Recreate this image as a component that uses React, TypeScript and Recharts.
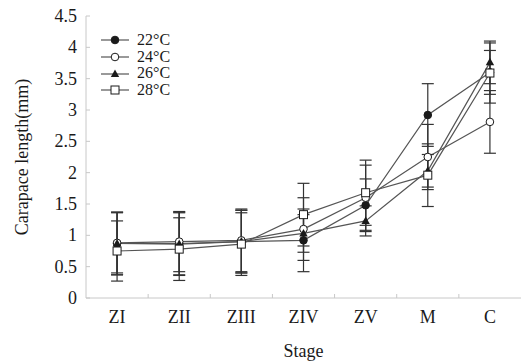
import { ErrorBar, Label, Line, LineChart, XAxis, YAxis } from 'recharts';

const stages = ['ZI', 'ZII', 'ZIII', 'ZIV', 'ZV', 'M', 'C'];
const yTicks = [0, 0.5, 1, 1.5, 2, 2.5, 3, 3.5, 4, 4.5];
const xTicks = [0, 0.5, 1, 1.5, 2, 2.5, 3, 3.5, 4, 4.5, 5, 5.5, 6];

const t22 = [0.87, 0.87, 0.9, 0.92, 1.48, 2.92, 3.6];
const t24 = [0.88, 0.9, 0.92, 1.1, 1.6, 2.25, 2.81];
const t26 = [0.87, 0.86, 0.9, 1.03, 1.23, 2.03, 3.76];
const t28 = [0.75, 0.78, 0.86, 1.33, 1.68, 1.96, 3.59];

const e22 = [0.5, 0.5, 0.5, 0.5, 0.42, 0.5, 0.35];
const e24 = [0.48, 0.48, 0.5, 0.5, 0.52, 0.52, 0.5];
const e26 = [0.5, 0.5, 0.5, 0.3, 0.24, 0.26, 0.34];
const e28 = [0.48, 0.5, 0.5, 0.5, 0.52, 0.5, 0.48];

const data = stages.map((stage, i) => ({
  x: i,
  stage,
  t22: t22[i],
  t24: t24[i],
  t26: t26[i],
  t28: t28[i],
  e22: e22[i],
  e24: e24[i],
  e26: e26[i],
  e28: e28[i],
}));

const FONT = '"Liberation Serif", "Times New Roman", serif';
const INK = '#1a1a1a';
const LINE = '#555';
const AXIS = '#c8c8c8';
const FS = 18;

type Shape = 'disc' | 'circle' | 'triangle' | 'square';

function Marker({ cx, cy, shape }: { cx: number; cy: number; shape: Shape }) {
  if (cx == null || cy == null) return null;
  if (shape === 'disc') return <circle cx={cx} cy={cy} r={3.8} fill={INK} stroke={INK} />;
  if (shape === 'circle')
    return <circle cx={cx} cy={cy} r={3.8} fill="#fff" stroke={INK} strokeWidth={1} />;
  if (shape === 'triangle')
    return <path d={`M${cx},${cy - 4.5}L${cx + 4.2},${cy + 3}L${cx - 4.2},${cy + 3}Z`} fill={INK} />;
  return <rect x={cx - 4} y={cy - 4} width={8} height={8} fill="#fff" stroke={INK} strokeWidth={1} />;
}

const series: { key: string; err: string; name: string; shape: Shape }[] = [
  { key: 't22', err: 'e22', name: '22°C', shape: 'disc' },
  { key: 't24', err: 'e24', name: '24°C', shape: 'circle' },
  { key: 't26', err: 'e26', name: '26°C', shape: 'triangle' },
  { key: 't28', err: 'e28', name: '28°C', shape: 'square' },
];

// legend drawn over the plot, top-left, like the original figure
function LegendBox() {
  return (
    <div
      style={{
        position: 'absolute',
        left: 100,
        top: 32,
        fontFamily: FONT,
        fontSize: 16,
        color: INK,
        lineHeight: '16.5px',
      }}
    >
      {series.map((s) => (
        <div key={s.key} style={{ display: 'flex', alignItems: 'center', height: 16.7 }}>
          <svg width={30} height={14} style={{ overflow: 'visible' }}>
            <line x1={1} y1={7} x2={29} y2={7} stroke={LINE} strokeWidth={1.2} />
            <Marker cx={15} cy={7} shape={s.shape} />
          </svg>
          <span style={{ marginLeft: 7, display: 'inline-block', height: 16.5, overflow: 'visible' }}>
            {s.name}
          </span>
        </div>
      ))}
    </div>
  );
}

function XTick({ x, y, payload }: any) {
  const v = payload.value as number;
  if (!Number.isInteger(v)) {
    return <line x1={x} y1={y} x2={x} y2={y - 4} stroke={AXIS} />;
  }
  return (
    <text x={x} y={y + 25} textAnchor="middle" fontFamily={FONT} fontSize={FS} fill={INK}>
      {stages[v]}
    </text>
  );
}

function YTick({ x, y, payload }: any) {
  return (
    <g>
      <line x1={x} y1={y} x2={x + 4} y2={y} stroke={AXIS} />
      <text x={x - 9} y={y + 6} textAnchor="end" fontFamily={FONT} fontSize={FS} fill={INK}>
        {payload.value}
      </text>
    </g>
  );
}

export default function App() {
  return (
    <div style={{ position: 'absolute', left: 0, top: 0, width: 521, height: 363, background: '#fff' }}>
      <LineChart width={521} height={363} data={data} margin={{ top: 16, right: 0, bottom: 0, left: 0 }}>
        <XAxis
          dataKey="x"
          type="number"
          domain={[-0.5, 6.5]}
          ticks={xTicks}
          interval={0}
          height={65}
          stroke={AXIS}
          tickLine={false}
          tickSize={0}
          tickMargin={0}
          tick={<XTick />}
        >
          <Label
            value="Stage"
            position="insideBottom"
            offset={6}
            style={{ fontFamily: FONT, fontSize: FS, fill: INK }}
          />
        </XAxis>
        <YAxis
          type="number"
          domain={[0, 4.5]}
          ticks={yTicks}
          interval={0}
          width={86}
          stroke={AXIS}
          tickLine={false}
          tickSize={0}
          tickMargin={0}
          tick={<YTick />}
        >
          <Label
            content={({ viewBox }: any) => {
              const cy = viewBox.y + viewBox.height / 2;
              return (
                <text
                  x={22}
                  y={cy}
                  transform={`rotate(-90 22 ${cy})`}
                  textAnchor="middle"
                  dominantBaseline="central"
                  fontFamily={FONT}
                  fontSize={FS}
                  fill={INK}
                >
                  Carapace length(mm)
                </text>
              );
            }}
          />
        </YAxis>
        {series.map((s) => (
          <Line
            key={s.key}
            dataKey={s.key}
            name={s.name}
            stroke={LINE}
            strokeWidth={1.2}
            isAnimationActive={false}
            dot={(p: any) => <Marker key={`${s.key}-${p.index}`} cx={p.cx} cy={p.cy} shape={s.shape} />}
            activeDot={false}
          >
            <ErrorBar dataKey={s.err} direction="y" width={6} stroke="#333" strokeWidth={1.2} />
          </Line>
        ))}
      </LineChart>
      <LegendBox />
    </div>
  );
}
